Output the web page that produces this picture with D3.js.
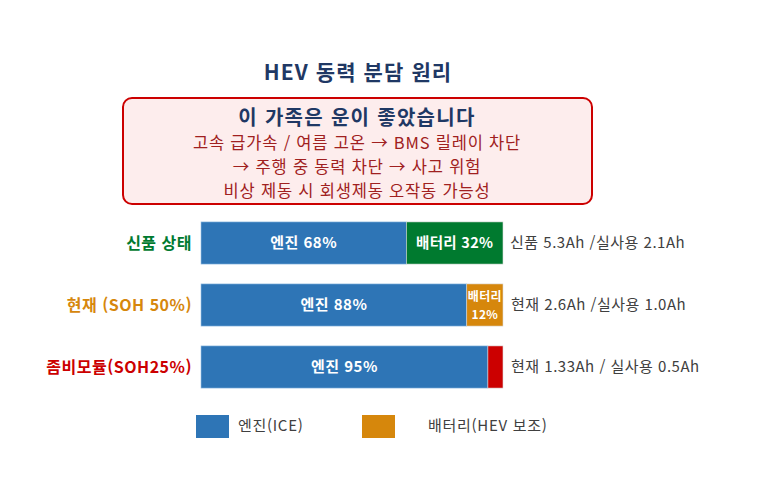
<!DOCTYPE html>
<html lang="ko">
<head>
<meta charset="utf-8">
<title>HEV 동력 분담 원리</title>
<script src="https://cdnjs.cloudflare.com/ajax/libs/d3/7.8.5/d3.min.js"></script>
<style>
  body { margin: 0; background: #fff; }
  svg { font-family: "Noto Sans CJK KR", "Noto Sans", sans-serif; }
</style>
</head>
<body>
<div id="chart"></div>
<script>
// data
const states = ["신품 상태", "현재 (SOH 50%)", "좀비모듈(SOH25%)"];
const engineShare = [68, 88, 95];
const batteryShare = [32, 12, 5];
const engineLabels = ["엔진 68%", "엔진 88%", "엔진 95%"];
const batteryLabels = [["배터리 32%"], ["배터리", "12%"], []];
const notes = ["신품 5.3Ah /실사용 2.1Ah", "현재 2.6Ah /실사용 1.0Ah", "현재 1.33Ah / 실사용 0.5Ah"];
const stateColors = ["#007A2F", "#D6870C", "#CC0000"];
const legendItems = ["엔진(ICE)", "배터리(HEV 보조)"];
const boxLines = ["고속 급가속 / 여름 고온 → BMS 릴레이 차단",
                  "→ 주행 중 동력 차단 → 사고 위험",
                  "비상 제동 시 회생제동 오작동 가능성"];

const w = 773, h = 480;
const engineColor = "#2E75B6";

const svg = d3.select("#chart").append("svg")
  .attr("width", w).attr("height", h);

// title
svg.append("text")
  .attr("x", 358).attr("y", 80)
  .attr("text-anchor", "middle")
  .style("font-size", "21px").style("font-weight", "bold")
  .style("letter-spacing", "1.1px")
  .attr("fill", "#1F3864")
  .text("HEV 동력 분담 원리");

// warning box
svg.append("rect")
  .attr("x", 123).attr("y", 98)
  .attr("width", 469).attr("height", 106)
  .attr("rx", 9)
  .attr("fill", "#FDEDED")
  .attr("stroke", "#CC0000").attr("stroke-width", 2);

svg.append("text")
  .attr("x", 357).attr("y", 125)
  .attr("text-anchor", "middle")
  .style("font-size", "20px").style("font-weight", "bold")
  .style("letter-spacing", "1.3px")
  .attr("fill", "#1F3864")
  .text("이 가족은 운이 좋았습니다");

svg.selectAll(".boxline")
  .data(boxLines)
  .enter().append("text")
  .attr("class", "boxline")
  .attr("x", 357)
  .attr("y", (d, i) => 149 + i * 24)
  .attr("text-anchor", "middle")
  .style("font-size", "16.5px")
  .style("letter-spacing", "0.8px")
  .attr("fill", "#A02020")
  .text(d => d);

// scales
const x = d3.scaleLinear().domain([0, 100]).range([201, 503]);
const y = d3.scaleBand().domain(states).range([212, 398]).paddingInner(0.32).paddingOuter(0.16);

const rows = svg.selectAll(".row")
  .data(states)
  .enter().append("g")
  .attr("class", "row")
  .attr("transform", d => "translate(0," + y(d) + ")");

const bh = y.bandwidth();

rows.append("rect")
  .attr("x", x(0))
  .attr("width", (d, i) => x(engineShare[i]) - x(0))
  .attr("height", bh)
  .attr("fill", engineColor)
  .attr("stroke", "#9DC3E6").attr("stroke-width", 0.6);

rows.append("rect")
  .attr("x", (d, i) => x(engineShare[i]))
  .attr("width", (d, i) => x(engineShare[i] + batteryShare[i]) - x(engineShare[i]))
  .attr("height", bh)
  .attr("fill", (d, i) => stateColors[i])
  .attr("stroke", "#dddddd").attr("stroke-width", 0.6);

rows.append("text")
  .attr("x", (d, i) => (x(0) + x(engineShare[i])) / 2)
  .attr("y", bh / 2 + 5)
  .attr("text-anchor", "middle")
  .style("font-size", "15px").style("font-weight", "bold")
  .style("letter-spacing", "0.5px")
  .attr("fill", "#fff")
  .text((d, i) => engineLabels[i]);

// battery labels: one text per segment, wrapped lines as tspans
rows.filter((d, i) => batteryLabels[i].length > 0)
  .append("text")
  .attr("text-anchor", "middle")
  .style("font-weight", "bold")
  .style("letter-spacing", "0.3px")
  .attr("fill", "#fff")
  .each(function(d) {
    const i = states.indexOf(d);
    const lines = batteryLabels[i];
    const cx = (x(engineShare[i]) + x(engineShare[i] + batteryShare[i])) / 2;
    const small = lines.length > 1;
    const t = d3.select(this)
      .attr("x", cx)
      .attr("y", small ? bh / 2 - 3.5 : bh / 2 + 5)
      .style("font-size", small ? "12px" : "14.5px");
    t.selectAll("tspan")
      .data(lines)
      .enter().append("tspan")
      .attr("x", cx)
      .attr("dy", (s, j) => j === 0 ? 0 : 17.5)
      .text(s => s);
  });

// left labels
rows.append("text")
  .attr("x", 192)
  .attr("y", bh / 2 + 6)
  .attr("text-anchor", "end")
  .style("font-size", "16px").style("font-weight", "bold")
  .style("letter-spacing", "0.5px")
  .attr("fill", (d, i) => stateColors[i])
  .text(d => d);

// right notes
rows.append("text")
  .attr("x", (d, i) => i === 0 ? 510 : 511)
  .attr("y", bh / 2 + 5)
  .style("font-size", "15px")
  .style("letter-spacing", "0.5px")
  .attr("fill", "#404040")
  .text((d, i) => notes[i]);

// legend
const legendX = [196, 362];
const legendTextX = [238, 428];
const lg = svg.selectAll(".legend")
  .data(legendItems)
  .enter().append("g")
  .attr("class", "legend");

lg.append("rect")
  .attr("x", (d, i) => legendX[i]).attr("y", 415)
  .attr("width", 33).attr("height", 23)
  .attr("fill", (d, i) => i === 0 ? engineColor : stateColors[1]);

lg.append("text")
  .attr("x", (d, i) => legendTextX[i]).attr("y", 431)
  .style("font-size", "15px")
  .style("letter-spacing", "0.7px")
  .attr("fill", "#404040")
  .text(d => d);
</script>
</body>
</html>
